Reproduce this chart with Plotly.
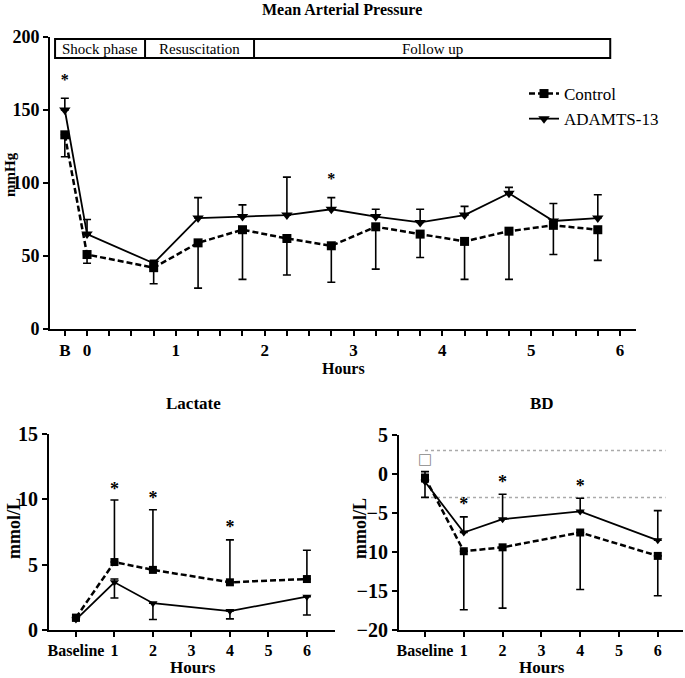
import plotly.graph_objects as go

# ---------------- Data ----------------
# Mean Arterial Pressure (hours; B = baseline plotted at -0.25)
map_x = [-0.25, 0, 0.75, 1.25, 1.75, 2.25, 2.75, 3.25, 3.75, 4.25, 4.75, 5.25, 5.75]
map_control = [133, 51, 42, 59, 68, 62, 57, 70, 65, 60, 67, 71, 68]
map_control_low = [118, 45, 31, 28, 34, 37, 32, 41, 49, 34, 34, 51, 47]
map_adamts = [150, 65, 45, 76, 77, 78, 82, 77, 73, 78, 93, 74, 76]
map_adamts_high = [158, 75, 47, 90, 85, 104, 90, 82, 82, 84, 97, 86, 92]
map_star_x = [-0.25, 2.75]
map_star_y = [170, 102]
map_tickvals = [-0.25, 0, 1, 2, 3, 4, 5, 6]
map_ticktext = ["B", "0", "1", "2", "3", "4", "5", "6"]
phases = ["Shock phase", "Resuscitation", "Follow up"]
phase_edges = [-0.36, 0.653, 1.88, 5.89]

# Lactate / BD (category positions: Baseline=0, 1..6 hours)
cat_vals = [0, 1, 2, 3, 4, 5, 6]
cat_text = ["Baseline", "1", "2", "3", "4", "5", "6"]
lab_x = [0, 1, 2, 4, 6]

lac_control = [0.95, 5.2, 4.6, 3.65, 3.9]
lac_control_high = [1.0, 9.95, 9.2, 6.9, 6.1]
lac_adamts = [0.8, 3.65, 2.05, 1.45, 2.55]
lac_adamts_high = [0.8, 3.9, 2.05, 1.45, 2.55]
lac_adamts_low = [0.7, 2.45, 0.8, 0.85, 1.15]
lac_star_x = [1, 2, 4]
lac_star_y = [10.7, 10.0, 7.8]

bd_control = [-0.45, -9.9, -9.4, -7.5, -10.5]
bd_control_low = [-3.0, -17.4, -17.2, -14.8, -15.6]
bd_adamts = [-1.0, -7.5, -5.8, -4.8, -8.5]
bd_adamts_high = [0.3, -5.5, -2.6, -3.1, -4.7]
bd_star_x = [1, 2, 4]
bd_star_y = [-4.1, -1.2, -1.7]
bd_ref_levels = [3, -3]
bd_ref_span = [0, 6.2]

# ---------------- Layout helpers ----------------
W, H = 685, 678
FONT = "Liberation Serif"
CTRL_DASH = "6px,3px"


def px_x(p):
    return p / W


def px_y(p):
    return 1 - p / H


fig = go.Figure()


def diff(a, b):
    return [x - y for x, y in zip(a, b)]


def add_series(xs, ys, up, down, xa, ya, dash, symbol, size, name, show, lw):
    fig.add_trace(go.Scatter(
        x=xs, y=ys, mode="lines+markers", name=name, showlegend=show,
        legendgroup=name,
        line=dict(color="black", width=lw, dash=dash),
        marker=dict(symbol=symbol, size=size, color="black"),
        error_y=dict(type="data", symmetric=False, array=up, arrayminus=down,
                     color="black", thickness=1.6, width=4),
        xaxis=xa, yaxis=ya, cliponaxis=False,
    ))


# Top panel
zeros = [0] * len(map_x)
add_series(map_x, map_control, zeros, diff(map_control, map_control_low), "x", "y",
           CTRL_DASH, "square", 9, "Control", True, 2.5)
add_series(map_x, map_adamts, diff(map_adamts_high, map_adamts), zeros, "x", "y",
           "solid", "triangle-down", 10, "ADAMTS-13", True, 1.8)
fig.add_trace(go.Scatter(x=map_star_x, y=map_star_y, mode="text", text=["*"] * len(map_star_x),
                         textfont=dict(family=FONT, size=16, color="black", weight="bold"),
                         showlegend=False, xaxis="x", yaxis="y", cliponaxis=False))

# Lactate
z5 = [0] * len(lab_x)
add_series(lab_x, lac_control, diff(lac_control_high, lac_control), z5, "x2", "y2",
           CTRL_DASH, "square", 8, "Control", False, 2.5)
add_series(lab_x, lac_adamts, diff(lac_adamts_high, lac_adamts), diff(lac_adamts, lac_adamts_low),
           "x2", "y2", "solid", "triangle-down", 8, "ADAMTS-13", False, 1.8)
fig.add_trace(go.Scatter(x=lac_star_x, y=lac_star_y, mode="text", text=["*"] * len(lac_star_x),
                         textfont=dict(family=FONT, size=18, color="black", weight="bold"),
                         showlegend=False, xaxis="x2", yaxis="y2", cliponaxis=False))

# BD
for lvl in bd_ref_levels:
    fig.add_trace(go.Scatter(x=bd_ref_span, y=[lvl, lvl], mode="lines",
                             line=dict(color="#aaaaaa", width=1.5, dash="dot"),
                             showlegend=False, xaxis="x3", yaxis="y3", hoverinfo="skip"))
add_series(lab_x, bd_control, z5, diff(bd_control, bd_control_low), "x3", "y3",
           CTRL_DASH, "square", 8, "Control", False, 2.5)
add_series(lab_x, bd_adamts, diff(bd_adamts_high, bd_adamts), z5, "x3", "y3",
           "solid", "triangle-down", 8, "ADAMTS-13", False, 1.8)
fig.add_trace(go.Scatter(x=bd_star_x, y=bd_star_y, mode="text", text=["*"] * len(bd_star_x),
                         textfont=dict(family=FONT, size=18, color="black", weight="bold"),
                         showlegend=False, xaxis="x3", yaxis="y3", cliponaxis=False))
fig.add_trace(go.Scatter(x=[0], y=[1.7], mode="text", text=["□"],
                         textfont=dict(family="DejaVu Sans", size=15, color="#888888"),
                         showlegend=False, xaxis="x3", yaxis="y3", cliponaxis=False))


def axis_style(size):
    return dict(showline=True, linecolor="black", linewidth=2, ticks="outside",
                tickcolor="black", tickwidth=2, ticklen=5, showgrid=False, zeroline=False,
                automargin=False, tickangle=0,
                tickfont=dict(family=FONT, size=size, color="black", weight="bold"))


fig.update_layout(
    width=W, height=H, plot_bgcolor="white", paper_bgcolor="white",
    margin=dict(l=0, r=0, t=0, b=0, autoexpand=False),
    xaxis=dict(domain=[px_x(50), px_x(636)], range=[-0.417, 6.18], anchor="y",
               tickvals=map_tickvals, ticktext=map_ticktext,
               minor=dict(ticks="outside", dtick=0.25, tick0=0, ticklen=5, tickwidth=2,
                          tickcolor="black"),
               **axis_style(17)),
    yaxis=dict(domain=[px_y(329), px_y(37)], range=[0, 200], anchor="x",
               tickvals=[0, 50, 100, 150, 200], **axis_style(18)),
    xaxis2=dict(domain=[px_x(49), px_x(335)], range=[-0.7, 6.73], anchor="y2",
                tickvals=cat_vals, ticktext=cat_text, **axis_style(16)),
    yaxis2=dict(domain=[px_y(630), px_y(434)], range=[0, 15], anchor="x2",
                tickvals=[0, 5, 10, 15], **axis_style(20)),
    xaxis3=dict(domain=[px_x(399), px_x(683)], range=[-0.67, 6.65], anchor="y3",
                tickvals=cat_vals, ticktext=cat_text, **axis_style(16)),
    yaxis3=dict(domain=[px_y(630), px_y(435)], range=[-20, 5], anchor="x3",
                tickvals=[5, 0, -5, -10, -15, -20], **axis_style(20)),
    legend=dict(x=px_x(524), y=px_y(76), xanchor="left", yanchor="top",
                font=dict(family=FONT, size=17, color="black"),
                tracegroupgap=0, bgcolor="rgba(0,0,0,0)"),
    showlegend=True,
)

# Phase boxes
y0b, y1b = 185.6, 198.6
fig.add_shape(type="rect", xref="x", yref="y", x0=phase_edges[0], x1=phase_edges[-1],
              y0=y0b, y1=y1b, line=dict(color="black", width=2))
for e in phase_edges[1:-1]:
    fig.add_shape(type="line", xref="x", yref="y", x0=e, x1=e, y0=y0b, y1=y1b,
                  line=dict(color="black", width=2))
for i, label in enumerate(phases):
    fig.add_annotation(x=(phase_edges[i] + phase_edges[i + 1]) / 2, y=(y0b + y1b) / 2,
                       xref="x", yref="y", text=label, showarrow=False,
                       font=dict(family=FONT, size=15, color="black"))


def ann(x, y, text, size, bold=True, angle=0):
    fig.add_annotation(x=px_x(x), y=px_y(y), xref="paper", yref="paper", text=text,
                       showarrow=False, textangle=angle, xanchor="center", yanchor="middle",
                       font=dict(family=FONT, size=size, color="black",
                                 weight="bold" if bold else "normal"))


ann(342, 9, "Mean Arterial Pressure", 16)
ann(10, 175, "mmHg", 15, angle=-90)
ann(343, 368, "Hours", 16)
ann(193, 403, "Lactate", 17)
ann(542, 403, "BD", 17)
ann(14, 529, "mmol/L", 18, angle=-90)
ann(360, 529, "mmol/L", 18, angle=-90)
ann(193, 667, "Hours", 17)
ann(542, 667, "Hours", 17)

# remove the browser's default page margin so the figure fills the window exactly
fig.write_html("out.html", config={"displayModeBar": False},
               post_script="document.body.style.margin='0';")
